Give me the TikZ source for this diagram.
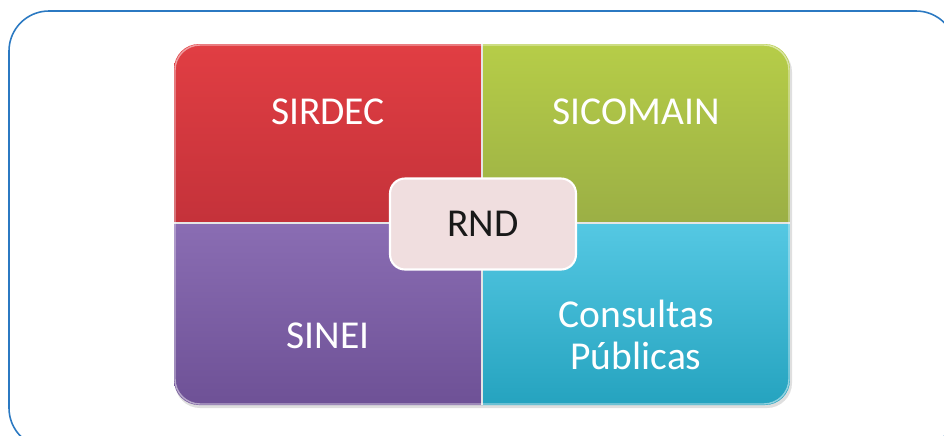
\documentclass[tikz,border=0pt]{standalone}
\usepackage{fontspec}
\setmainfont{Carlito}
\definecolor{marco}{HTML}{2B79C2}
\definecolor{rojoA}{HTML}{E13E43}
\definecolor{rojoB}{HTML}{C4323A}
\definecolor{verdeA}{HTML}{B6CD48}
\definecolor{verdeB}{HTML}{9BAF45}
\definecolor{moradoA}{HTML}{8A6DB3}
\definecolor{moradoB}{HTML}{6E5196}
\definecolor{cianA}{HTML}{55C8E3}
\definecolor{cianB}{HTML}{25A3BF}
\definecolor{rosa}{HTML}{F0DEDF}
\tikzstyle{titulo} = [text=white, font=\fontsize{22.5}{23.5}\selectfont, align=center]
\tikzstyle{centro} = [draw=white, line width=1.2pt, fill=rosa, rounded corners=0.3cm, minimum width=3.72cm, minimum height=1.82cm, text=black!90, font=\fontsize{22.5}{23.5}\selectfont]

\begin{document}
\begin{tikzpicture}[x=0.02cm, y=-0.02cm]
	\useasboundingbox (0,0) rectangle (944,436);
	\draw[marco, line width=0.9pt, rounded corners=0.8cm] (9,11) rectangle (956,448);
	% sombra
	\fill[gray!25, rounded corners=0.5cm] (175,47) rectangle (792,408);
	\begin{scope}
		\clip[rounded corners=0.5cm] (174,44) rectangle (790,405);
		\shade[top color=rojoA, bottom color=rojoB] (174,44) rectangle (482,223);
		\shade[top color=verdeA, bottom color=verdeB] (482,44) rectangle (790,223);
		\shade[top color=moradoA, bottom color=moradoB] (174,223) rectangle (482,405);
		\shade[top color=cianA, bottom color=cianB] (482,223) rectangle (790,405);
		\draw[white!80!gray, line width=1.2pt] (482,44) -- (482,405);
		\draw[white!80!gray, line width=1.2pt] (174,223) -- (790,223);
	\end{scope}
	\draw[white, opacity=0.5, line width=0.8pt, rounded corners=0.5cm] (175,45) rectangle (789,404);
	\node[titulo] (sirdec) at (328,112) {SIRDEC};
	\node[titulo] (sicomain) at (636,112) {SICOMAIN};
	\node[titulo] (sinei) at (328,336) {SINEI};
	\node[titulo] (consultas) at (636,335) {Consultas\\Públicas};
	\node[centro] (rnd) at (483,224) {RND};
\end{tikzpicture}
\end{document}
